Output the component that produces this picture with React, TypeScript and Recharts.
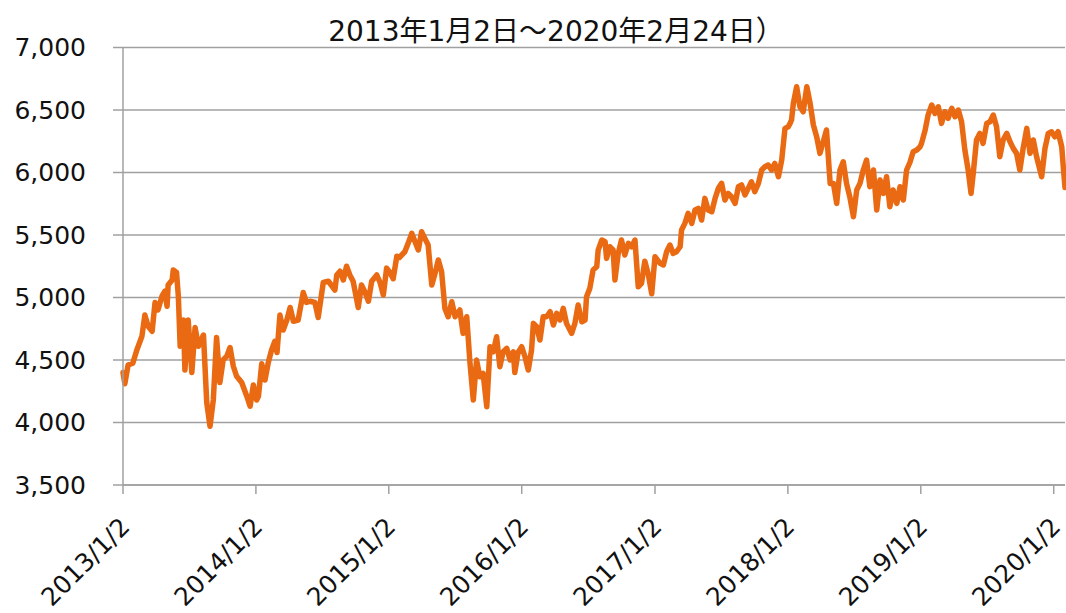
import React from 'react';
import { LineChart, Line, XAxis, YAxis, CartesianGrid } from 'recharts';

// Days elapsed since 2013/1/2 for each sampled point
const dayOffsets = [
  0, 5, 14, 27, 38, 52, 60, 69, 80, 88, 96, 107, 115, 121, 124, 135, 138, 147, 152, 157,
  166, 170, 179, 189, 198, 207, 221, 230, 239, 248, 257, 266, 275, 285, 294, 303, 312, 326, 340, 349,
  358, 367, 372, 381, 390, 399, 408, 417, 423, 431, 440, 450, 459, 468, 481, 495, 504, 514, 527, 536,
  550, 564, 582, 587, 596, 605, 614, 623, 632, 646, 655, 665, 674, 683, 697, 706, 715, 724, 733, 742,
  752, 759, 774, 783, 793, 802, 811, 820, 829, 838, 848, 857, 866, 875, 884, 893, 903, 912, 925, 934,
  944, 953, 962, 971, 980, 989, 999, 1008, 1017, 1026, 1035, 1044, 1054, 1063, 1072, 1076, 1085, 1095, 1104, 1113,
  1122, 1127, 1136, 1145, 1154, 1163, 1173, 1182, 1191, 1200, 1209, 1218, 1232, 1241, 1250, 1260, 1269, 1273, 1282, 1291,
  1301, 1305, 1315, 1324, 1328, 1337, 1346, 1351, 1360, 1369, 1378, 1388, 1397, 1406, 1415, 1424, 1433, 1443, 1452, 1461,
  1475, 1484, 1493, 1502, 1511, 1520, 1530, 1534, 1543, 1552, 1562, 1571, 1580, 1589, 1598, 1607, 1617, 1626, 1635, 1644,
  1653, 1662, 1671, 1681, 1690, 1699, 1708, 1717, 1726, 1735, 1745, 1754, 1763, 1772, 1781, 1790, 1800, 1809, 1818, 1827,
  1832, 1836, 1841, 1850, 1859, 1868, 1878, 1887, 1896, 1905, 1914, 1923, 1932, 1942, 1951, 1960, 1969, 1978, 1987, 1996,
  2006, 2015, 2024, 2033, 2042, 2051, 2061, 2070, 2079, 2088, 2097, 2106, 2115, 2125, 2134, 2143, 2152, 2161, 2170, 2180,
  2189, 2193, 2203, 2211, 2221, 2230, 2239, 2248, 2257, 2266, 2276, 2285, 2294, 2303, 2312, 2321, 2329, 2335, 2344, 2353,
  2362, 2372, 2381, 2390, 2399, 2408, 2417, 2427, 2436, 2445, 2454, 2463, 2472, 2482, 2491, 2500, 2509, 2523, 2532, 2541,
  2550, 2559, 2568, 2578, 2583, 2587,
];

// Index level at each sampled point
const indexValues = [
  4400, 4310, 4460, 4475, 4580, 4690, 4860, 4770, 4730, 4960, 4900, 5010, 5050, 4930, 5100, 5140, 5220, 5200, 5010, 4610,
  4820, 4420, 4820, 4400, 4760, 4610, 4700, 4160, 3970, 4180, 4680, 4320, 4500, 4530, 4600, 4450, 4370, 4320, 4210, 4130,
  4300, 4180, 4210, 4470, 4340, 4480, 4580, 4650, 4560, 4860, 4740, 4820, 4920, 4810, 4820, 5040, 4960, 4970, 4960, 4840,
  5120, 5130, 5060, 5180, 5210, 5140, 5250, 5180, 5130, 4920, 5100, 5040, 4970, 5130, 5180, 5120, 5020, 5235, 5200, 5150,
  5330, 5320, 5366, 5433, 5513, 5446, 5380, 5526, 5473, 5420, 5100, 5193, 5300, 5206, 4913, 4846, 4966, 4846, 4900, 4713,
  4846, 4473, 4180, 4500, 4366, 4393, 4126, 4606, 4566, 4686, 4446, 4566, 4593, 4500, 4566, 4400, 4560, 4606, 4526, 4420,
  4580, 4793, 4766, 4660, 4846, 4846, 4886, 4780, 4873, 4820, 4913, 4793, 4713, 4793, 4940, 4806, 4820, 5006, 5073, 5220,
  5246, 5380, 5460, 5446, 5313, 5406, 5380, 5140, 5353, 5460, 5340, 5433, 5406, 5460, 5086, 5113, 5290, 5180, 5030, 5326,
  5273, 5260, 5366, 5420, 5353, 5366, 5406, 5540, 5593, 5673, 5593, 5700, 5713, 5620, 5793, 5700, 5686, 5793, 5873, 5913,
  5780, 5833, 5806, 5753, 5886, 5900, 5820, 5873, 5926, 5846, 5913, 6020, 6046, 6060, 6020, 6073, 5966, 6100, 6353, 6366,
  6393, 6420, 6553, 6686, 6526, 6486, 6686, 6553, 6380, 6286, 6153, 6246, 6340, 5913, 5913, 5753, 6020, 6086, 5913, 5806,
  5646, 5860, 5913, 6020, 6100, 5886, 6020, 5700, 5940, 5833, 5966, 5726, 5860, 5753, 5886, 5780, 6020, 6080, 6166, 6180,
  6206, 6233, 6340, 6460, 6540, 6473, 6526, 6393, 6486, 6433, 6513, 6446, 6500, 6406, 6180, 6020, 5833, 5993, 6260, 6313,
  6233, 6393, 6406, 6460, 6366, 6126, 6260, 6313, 6246, 6193, 6153, 6020, 6193, 6353, 6153, 6260, 6126, 5966, 6193, 6313,
  6326, 6286, 6326, 6206, 6020, 5880,
];

const xTickDays = [0, 365, 730, 1095, 1461, 1826, 2191, 2556];
const xTickLabels = ['2013/1/2', '2014/1/2', '2015/1/2', '2016/1/2', '2017/1/2', '2018/1/2', '2019/1/2', '2020/1/2'];
const yTicks = [3500, 4000, 4500, 5000, 5500, 6000, 6500, 7000];
const title = '2013年1月2日～2020年2月24日）';

const data = dayOffsets.map((d, i) => ({ d, v: indexValues[i] }));

const FONT = "Verdana, 'DejaVu Sans', 'Noto Sans CJK JP', sans-serif";
const GRID = '#a0a0a0';

if (typeof document !== 'undefined') {
  document.body.style.margin = '0';
  document.body.style.overflow = 'hidden';
}

const XTick = (props: any) => {
  const { x, y, payload } = props;
  const idx = xTickDays.indexOf(payload.value);
  const label = idx >= 0 ? xTickLabels[idx] : '';
  return (
    <g transform={`translate(${x + 2},${y + 26})`}>
      <text
        transform="rotate(-45)"
        textAnchor="end"
        dy="0.35em"
        fontSize={25}
        fill="#111"
        fontFamily={FONT}
      >
        {label}
      </text>
    </g>
  );
};

const fmt = (v: number) => v.toLocaleString('en-US');

export default function App() {
  return (
    <div style={{ width: 1066, height: 613, fontFamily: FONT, overflow: 'hidden' }}>
      <LineChart
        width={1066}
        height={613}
        data={data}
        margin={{ top: 47.5, right: 1, bottom: 0, left: 0 }}
      >
        <text x={556} y={41.3} textAnchor="middle" fontSize={28} fill="#111" fontFamily={FONT}>
          {title}
        </text>
        <CartesianGrid horizontal={true} vertical={false} stroke={GRID} strokeWidth={1.5} />
        <XAxis
          dataKey="d"
          type="number"
          domain={[0, 2587]}
          ticks={xTickDays}
          interval={0}
          height={128}
          tickSize={9}
          tickLine={{ stroke: GRID, strokeWidth: 1.5 }}
          axisLine={{ stroke: GRID, strokeWidth: 1.5 }}
          tick={<XTick />}
        />
        <YAxis
          type="number"
          domain={[3500, 7000]}
          ticks={yTicks}
          interval={0}
          width={123}
          tickSize={10}
          tickMargin={27}
          tickFormatter={fmt}
          tickLine={{ stroke: GRID, strokeWidth: 1.5 }}
          axisLine={{ stroke: GRID, strokeWidth: 1.5 }}
          tick={{ fontSize: 25, fill: '#111', fontFamily: FONT }}
        />
        <Line
          type="linear"
          dataKey="v"
          stroke="#E96A12"
          strokeWidth={5.5}
          strokeLinejoin="round"
          strokeLinecap="round"
          dot={false}
          activeDot={false}
          isAnimationActive={false}
        />
      </LineChart>
    </div>
  );
}
